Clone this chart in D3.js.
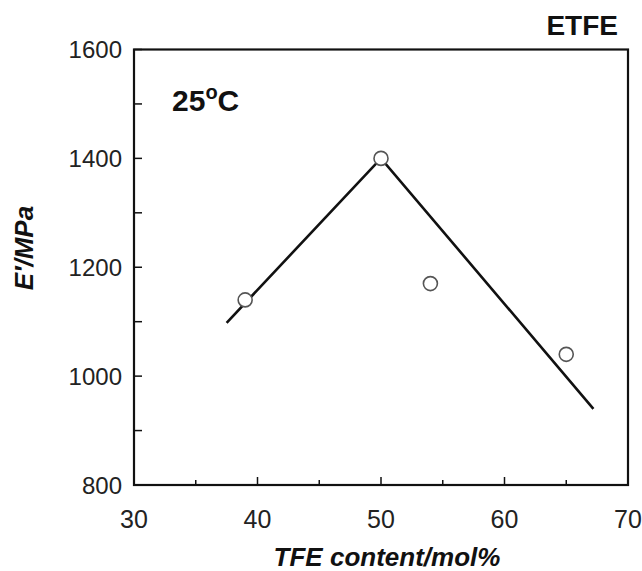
<!DOCTYPE html>
<html><head><meta charset="utf-8">
<script src="https://cdn.jsdelivr.net/npm/d3@7"></script>
<style>body{margin:0;background:#fff;} svg{display:block;font-family:"Liberation Sans",Arial,sans-serif;}</style>
</head><body>
<svg id="c" width="642" height="571"></svg>
<script>
const pointX = [39, 50, 54, 65];
const pointY = [1140, 1400, 1170, 1040];
const lineX = [37.5, 50, 67.2];
const lineY = [1098, 1400, 940];
const xTicks = [30, 40, 50, 60, 70];
const xMinor = [35, 45, 55, 65];
const yTicks = [800, 1000, 1200, 1400, 1600];
const yMinor = [900, 1100, 1300, 1500];

const svg = d3.select("#c");
const L = 134, R = 628, T = 49.5, B = 485;
const x = d3.scaleLinear().domain([30, 70]).range([L, R]);
const y = d3.scaleLinear().domain([800, 1600]).range([B, T]);

// ticks (inward)
const g = svg.append("g");
g.selectAll("line.xt").data(xTicks).join("line")
  .attr("x1", d => x(d)).attr("x2", d => x(d)).attr("y1", B).attr("y2", B - 8)
  .attr("stroke", "#111").attr("stroke-width", 1.5);
g.selectAll("line.xm").data(xMinor).join("line")
  .attr("x1", d => x(d)).attr("x2", d => x(d)).attr("y1", B).attr("y2", B - 5)
  .attr("stroke", "#111").attr("stroke-width", 1.5);
g.selectAll("line.yt").data(yTicks.concat(yMinor)).join("line")
  .attr("x1", L).attr("x2", L + 8).attr("y1", d => y(d)).attr("y2", d => y(d))
  .attr("stroke", "#111").attr("stroke-width", 1.5);

// frame
svg.append("rect").attr("x", L).attr("y", T).attr("width", R - L).attr("height", B - T)
  .attr("fill", "none").attr("stroke", "#111").attr("stroke-width", 2.2);

// tick labels
svg.selectAll("text.xl").data(xTicks).join("text")
  .attr("x", d => x(d)).attr("y", 528).attr("text-anchor", "middle")
  .attr("font-size", 25).attr("fill", "#222").text(d => d);
svg.selectAll("text.yl").data(yTicks).join("text")
  .attr("x", 122).attr("y", d => y(d) + 8.5).attr("text-anchor", "end")
  .attr("font-size", 24).attr("fill", "#222").text(d => d);

// line
const lineData = lineX.map((v, i) => [v, lineY[i]]);
svg.append("path").datum(lineData)
  .attr("d", d3.line().x(d => x(d[0])).y(d => y(d[1])))
  .attr("fill", "none").attr("stroke", "#111").attr("stroke-width", 2.6);

// points
svg.selectAll("circle").data(pointX.map((v, i) => [v, pointY[i]])).join("circle")
  .attr("cx", d => x(d[0])).attr("cy", d => y(d[1])).attr("r", 7)
  .attr("fill", "#fff").attr("stroke", "#555").attr("stroke-width", 1.6);

// labels
svg.append("text").attr("x", 387).attr("y", 566).attr("text-anchor", "middle")
  .attr("font-size", 26).attr("font-weight", "bold").attr("font-style", "italic").attr("fill", "#111")
  .text("TFE content/mol%");
svg.append("text").attr("transform", "translate(33,248) rotate(-90)").attr("text-anchor", "middle")
  .attr("font-size", 26).attr("font-weight", "bold").attr("font-style", "italic").attr("fill", "#111")
  .text("E′/MPa");
svg.append("text").attr("x", 618).attr("y", 35).attr("text-anchor", "end")
  .attr("font-size", 28).attr("font-weight", "bold").attr("fill", "#111").text("ETFE");
const t = svg.append("text").attr("x", 172).attr("y", 111)
  .attr("font-size", 30).attr("font-weight", "bold").attr("fill", "#111");
t.append("tspan").text("25");
t.append("tspan").attr("font-size", 20).attr("dy", -12).text("o");
t.append("tspan").attr("dy", 12).text("C");
</script>
</body></html>
